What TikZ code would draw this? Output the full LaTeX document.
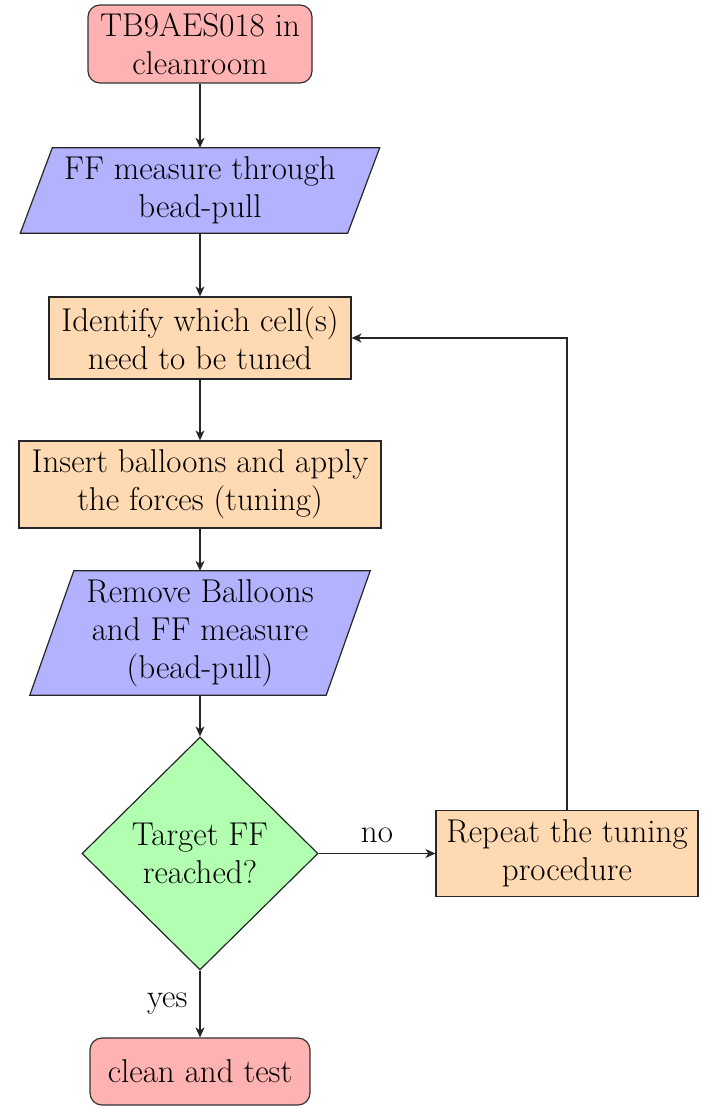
\documentclass[tikz,border=0pt]{standalone}
\usetikzlibrary{shapes.geometric,arrows.meta}
\pgfdeclarelayer{background}
\pgfsetlayers{background,main}
\begin{document}
\begin{tikzpicture}[x=1pt,y=-1pt,
  every node/.style={font=\fontsize{33}{38}\selectfont, align=center, inner sep=0pt},
  startstop/.style={rectangle, rounded corners=12pt, draw=black!80, line width=1.2pt, fill=red!30},
  procbox/.style={rectangle, draw=black!85, line width=1.2pt, fill=orange!30},
  iobox/.style={rectangle},
  iofill/.style={draw=black!85, line width=1.2pt, fill=blue!30},
  decbox/.style={diamond, draw=black!85, line width=1.2pt, fill=green!30},
  arr/.style={draw=black!85, line width=1.2pt, -{Stealth[length=10pt,width=9pt,inset=3pt]}}
]
\useasboundingbox (0,0) rectangle (706,1109);

\node[startstop, minimum width=224pt, minimum height=78pt] (start) at (200,44) {TB9AES018 in\\cleanroom};
\node[iobox, minimum width=327pt, minimum height=85pt] (ff) at (200,190.5) {FF measure through\\bead-pull};
\node[procbox, minimum width=302pt, minimum height=82pt] (ident) at (200,338) {Identify which cell(s)\\need to be tuned};
\node[procbox, minimum width=362pt, minimum height=87pt] (ins) at (200,484.5) {Insert balloons and apply\\the forces (tuning)};
\node[iobox, minimum width=296pt, minimum height=124pt] (rem) at (200,633) {Remove Balloons\\and FF measure\\(bead-pull)};
\node[decbox, minimum width=236pt, minimum height=233pt] (dec) at (200,853.5) {Target FF\\reached?};
\node[procbox, minimum width=262pt, minimum height=86pt] (rep) at (567,853.5) {Repeat the tuning\\procedure};
\node[startstop, minimum width=220pt, minimum height=67pt] (end) at (200,1071.5) {clean and test};

\begin{pgfonlayer}{background}
  \path[iofill] ([xshift=16pt]ff.north west) -- ([xshift=16pt]ff.north east)
    -- ([xshift=-16pt]ff.south east) -- ([xshift=-16pt]ff.south west) -- cycle;
  \path[iofill] ([xshift=22pt]rem.north west) -- ([xshift=22pt]rem.north east)
    -- ([xshift=-22pt]rem.south east) -- ([xshift=-22pt]rem.south west) -- cycle;
\end{pgfonlayer}

\draw[arr] (start) -- (ff);
\draw[arr] (ff) -- (ident);
\draw[arr] (ident) -- (ins);
\draw[arr] (ins) -- (rem);
\draw[arr] (rem) -- (dec);
\draw[arr] (dec.east) -- node[above=10pt] {no} (rep.west);
\draw[arr] (dec.south) -- node[left=12pt] {yes} (end.north);
\draw[arr] (rep.north) |- (ident.east);
\end{tikzpicture}
\end{document}
